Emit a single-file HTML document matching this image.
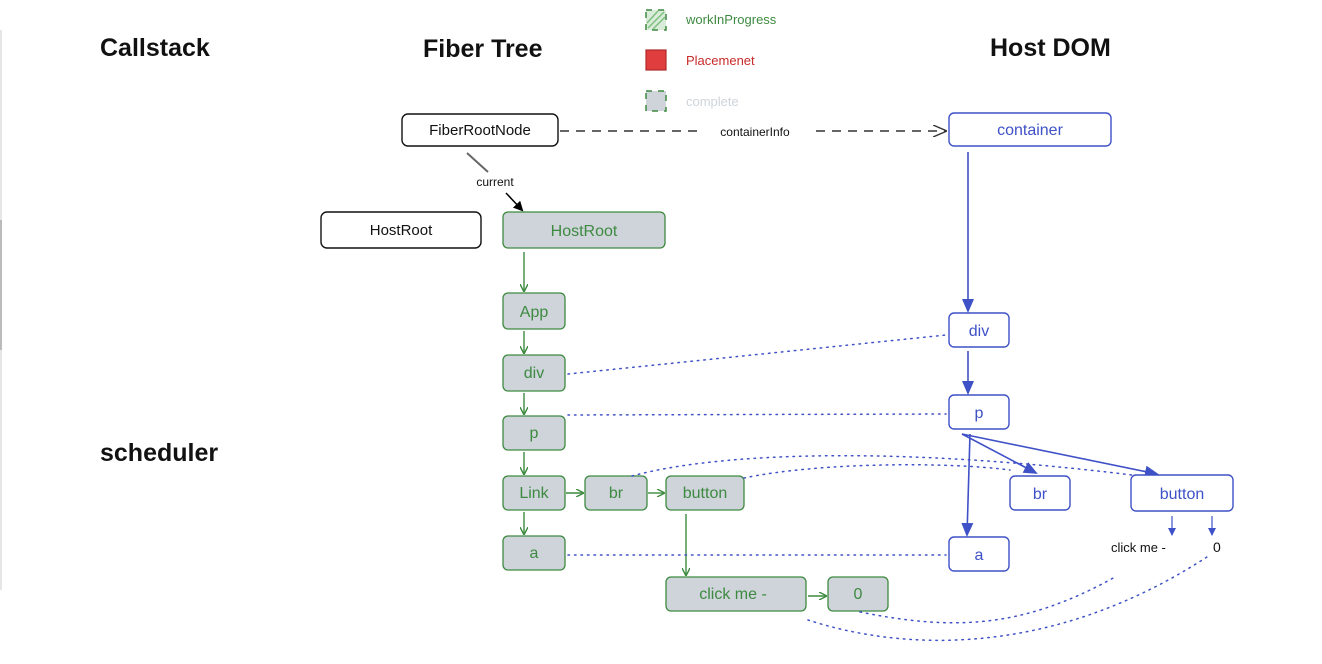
<!DOCTYPE html>
<html><head><meta charset="utf-8"><style>
html,body{margin:0;padding:0;background:#fff;}
svg{display:block;}
text{font-family:"Liberation Sans",sans-serif;}
</style></head><body>
<svg width="1322" height="664" viewBox="0 0 1322 664" xmlns="http://www.w3.org/2000/svg">
<defs>
<marker id="ab" markerWidth="10" markerHeight="10" refX="8" refY="5" orient="auto" markerUnits="userSpaceOnUse"><path d="M0,0 L10,5 L0,10 z" fill="#000"/></marker>
<marker id="ag" markerWidth="8" markerHeight="8" refX="7" refY="4" orient="auto" markerUnits="userSpaceOnUse"><path d="M0,0 L8,4 L0,8" fill="none" stroke="#3d8a40" stroke-width="1.4"/></marker>
<marker id="abl" markerWidth="14" markerHeight="12" refX="12" refY="6" orient="auto" markerUnits="userSpaceOnUse"><path d="M0,0 L14,6 L0,12 z" fill="#3f51c6"/></marker>
<marker id="abls" markerWidth="8" markerHeight="8" refX="7" refY="4" orient="auto" markerUnits="userSpaceOnUse"><path d="M0,0 L8,4 L0,8 z" fill="#3f51c6"/></marker>
<marker id="ad" markerWidth="14" markerHeight="12" refX="13" refY="6" orient="auto" markerUnits="userSpaceOnUse"><path d="M0,0 L14,6 L0,12" fill="none" stroke="#333" stroke-width="1.4"/></marker>
</defs>
<line x1="1" y1="30" x2="1" y2="590" stroke="#ddd" stroke-width="1.5"/>
<line x1="1" y1="220" x2="1" y2="350" stroke="#aaa" stroke-width="1.5"/>

<g font-size="25" font-weight="bold" fill="#111">
<text x="100" y="56">Callstack</text>
<text x="423" y="57">Fiber Tree</text>
<text x="990" y="56">Host DOM</text>
<text x="100" y="461">scheduler</text>
</g>

<!-- legend -->
<rect x="646" y="10" width="20" height="20" fill="#d9ecd9" stroke="#3d8a40" stroke-width="1.5" stroke-dasharray="6 6"/>
<path d="M648,28 L664,12 M653,29 L665,17 M647,23 L658,11" stroke="#7fbf80" stroke-width="1.5"/>
<text x="686" y="24" font-size="13" fill="#3d8a40">workInProgress</text>
<rect x="646" y="50" width="20" height="20" fill="#e03e3e" stroke="#b02a2a" stroke-width="1.2"/>
<text x="686" y="65" font-size="13" fill="#c92a2a">Placemenet</text>
<rect x="646" y="91" width="20" height="20" fill="#ced4da" stroke="#3d8a40" stroke-width="1.5" stroke-dasharray="6 6"/>
<text x="686" y="106" font-size="13" fill="#ced4da">complete</text>

<!-- dashed containerInfo -->
<line x1="560" y1="131" x2="946" y2="131" stroke="#333" stroke-width="1.5" stroke-dasharray="9 7" marker-end="url(#ad)"/>
<rect x="700" y="123" width="110" height="16" fill="#fff"/>
<text x="755" y="136" font-size="12" fill="#111" text-anchor="middle">containerInfo</text>

<!-- current -->
<line x1="467" y1="153" x2="488" y2="172" stroke="#666" stroke-width="2"/>
<text x="495" y="186" font-size="12" fill="#111" text-anchor="middle">current</text>
<line x1="506" y1="193" x2="522" y2="210" stroke="#000" stroke-width="1.5" marker-end="url(#ab)"/>

<!-- black nodes -->
<g fill="#fff" stroke="#111" stroke-width="1.4">
<rect x="402" y="114" width="156" height="32" rx="6"/>
<rect x="321" y="212" width="160" height="36" rx="6"/>
</g>
<g font-size="15" fill="#111" text-anchor="middle">
<text x="480" y="135">FiberRootNode</text>
<text x="401" y="235">HostRoot</text>
</g>

<!-- green arrows -->
<g stroke="#3d8a40" stroke-width="1.4" fill="none" marker-end="url(#ag)">
<line x1="524" y1="252" x2="524" y2="291"/>
<line x1="524" y1="331" x2="524" y2="353"/>
<line x1="524" y1="393" x2="524" y2="414"/>
<line x1="524" y1="452" x2="524" y2="474"/>
<line x1="524" y1="512" x2="524" y2="534"/>
<line x1="566" y1="493" x2="583" y2="493"/>
<line x1="648" y1="493" x2="664" y2="493"/>
<line x1="686" y1="514" x2="686" y2="575"/>
<line x1="808" y1="596" x2="826" y2="596"/>
</g>

<!-- green nodes -->
<g fill="#ced4da" stroke="#3d8a40" stroke-width="1.3">
<rect x="503" y="212" width="162" height="36" rx="5"/>
<rect x="503" y="293" width="62" height="36" rx="5"/>
<rect x="503" y="355" width="62" height="36" rx="5"/>
<rect x="503" y="416" width="62" height="34" rx="5"/>
<rect x="503" y="476" width="62" height="34" rx="5"/>
<rect x="585" y="476" width="62" height="34" rx="5"/>
<rect x="666" y="476" width="78" height="34" rx="5"/>
<rect x="503" y="536" width="62" height="34" rx="5"/>
<rect x="666" y="577" width="140" height="34" rx="5"/>
<rect x="828" y="577" width="60" height="34" rx="5"/>
</g>
<g font-size="16" fill="#3d8a40" text-anchor="middle">
<text x="584" y="236">HostRoot</text>
<text x="534" y="317">App</text>
<text x="534" y="378">div</text>
<text x="534" y="438">p</text>
<text x="534" y="498">Link</text>
<text x="616" y="498">br</text>
<text x="705" y="498">button</text>
<text x="534" y="558">a</text>
<text x="733" y="599">click me -</text>
<text x="858" y="599">0</text>
</g>

<!-- dotted links -->
<g stroke="#3f51c6" stroke-width="1.5" fill="none" stroke-dasharray="1.5 5" stroke-linecap="round">
<line x1="568" y1="374" x2="946" y2="335"/>
<line x1="568" y1="415" x2="946" y2="414"/>
<path d="M632,476 C720,452 900,446 1140,476"/>
<path d="M744,478 C820,462 950,462 1010,470"/>
<line x1="568" y1="555" x2="946" y2="555"/>
<path d="M808,620 C900,650 1050,660 1210,555"/>
<path d="M860,612 C950,630 1020,630 1115,577"/>
</g>

<!-- blue arrows -->
<g stroke="#3f51c6" stroke-width="1.6" fill="none">
<line x1="968" y1="152" x2="968" y2="311" marker-end="url(#abl)"/>
<line x1="968" y1="351" x2="968" y2="393" marker-end="url(#abl)"/>
<line x1="970" y1="434" x2="967" y2="535" marker-end="url(#abl)"/>
<line x1="962" y1="434" x2="1036" y2="473" marker-end="url(#abl)"/>
<line x1="962" y1="434" x2="1157" y2="474" marker-end="url(#abl)"/>
<line x1="1172" y1="516" x2="1172" y2="535" marker-end="url(#abls)" stroke-width="1.2"/>
<line x1="1212" y1="516" x2="1212" y2="535" marker-end="url(#abls)" stroke-width="1.2"/>
</g>

<!-- blue nodes -->
<g fill="#fff" stroke="#3f51c6" stroke-width="1.4">
<rect x="949" y="113" width="162" height="33" rx="5"/>
<rect x="949" y="313" width="60" height="34" rx="5"/>
<rect x="949" y="395" width="60" height="34" rx="5"/>
<rect x="1010" y="476" width="60" height="34" rx="5"/>
<rect x="1131" y="475" width="102" height="36" rx="5"/>
<rect x="949" y="537" width="60" height="34" rx="5"/>
</g>
<g font-size="16" fill="#3f51c6" text-anchor="middle">
<text x="1030" y="135">container</text>
<text x="979" y="336">div</text>
<text x="979" y="418">p</text>
<text x="1040" y="499">br</text>
<text x="1182" y="499">button</text>
<text x="979" y="560">a</text>
</g>
<text x="1111" y="552" font-size="13" fill="#111">click me -</text>
<text x="1213" y="552" font-size="14" fill="#111">0</text>
</svg>
</body></html>
